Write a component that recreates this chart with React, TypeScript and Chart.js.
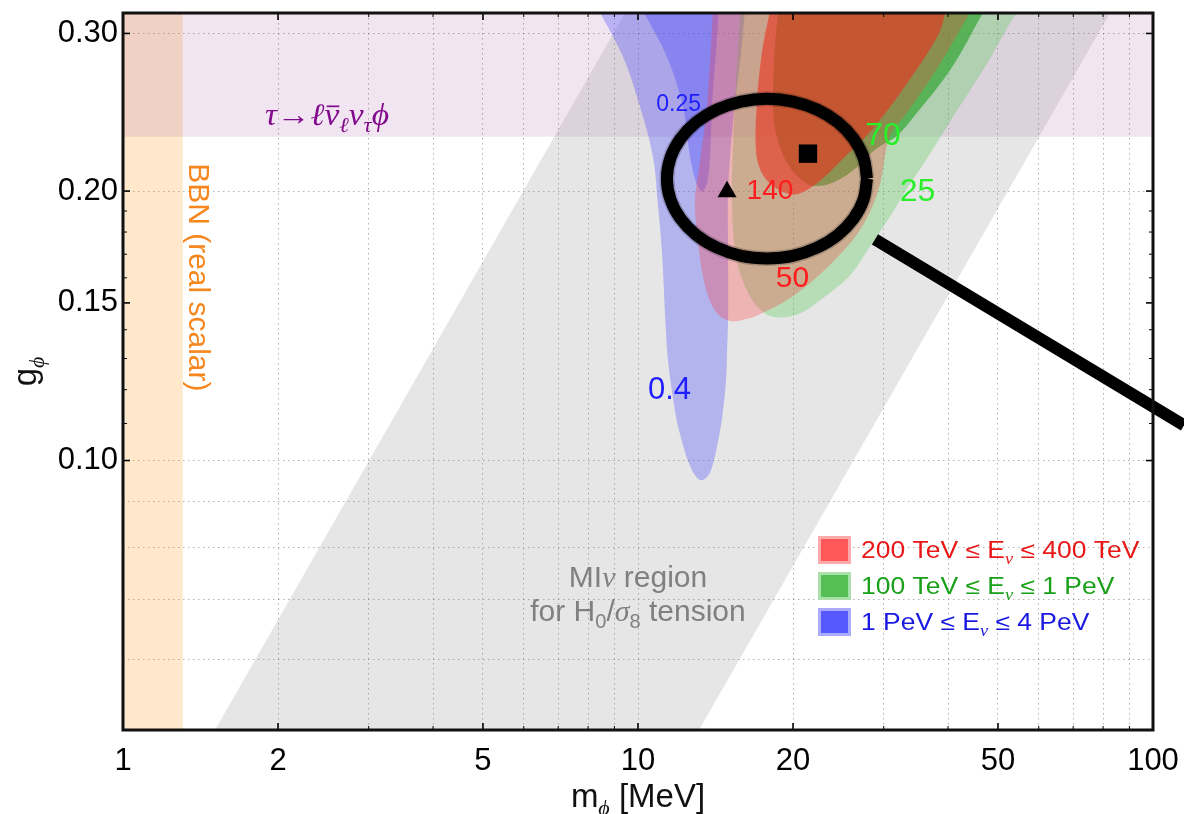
import React, { useEffect, useRef } from 'react';
import { Chart, registerables } from 'chart.js';

Chart.register(...registerables);

// ---------- axes ----------
const X_MAJOR = [1, 2, 5, 10, 20, 50, 100];
const X_MINOR = [3, 4, 6, 7, 8, 9, 30, 40, 60, 70, 80, 90];
const X_GRID = [2, 3, 4, 5, 6, 7, 8, 9, 10, 20, 30, 40, 50, 60, 70, 80, 90];
const Y_MAJOR = [0.1, 0.15, 0.2, 0.3];
const Y_LABELS = ['0.10', '0.15', '0.20', '0.30'];
const Y_MINOR = [0.11, 0.12, 0.13, 0.14, 0.16, 0.17, 0.18, 0.19];
const Y_GRID = [0.06, 0.07, 0.08, 0.09, 0.1, 0.2, 0.3];

// ---------- regions: [m_phi (MeV), g_phi] ----------
const BBN_BAND = [[0.9, 0.04], [1.306, 0.04], [1.306, 0.4], [0.9, 0.4]];
const TAU_BAND = [[0.9, 0.23], [120, 0.23], [120, 0.4], [0.9, 0.4]];
const MINU_BAND = [[1.509, 0.05], [13.135, 0.05], [82.51, 0.3162], [9.435, 0.3162]];

const BLUE_04 = [
  [8.4, 0.318], [9.351, 0.2825], [10.09, 0.2484], [10.69, 0.2185], [10.94, 0.1922], [11.13, 0.1712],
  [11.33, 0.1394], [11.44, 0.1291], [11.8, 0.1136], [12.07, 0.107], [12.62, 0.0986], [13.19, 0.0951],
  [13.67, 0.0961], [13.98, 0.0991], [14.3, 0.1051], [14.56, 0.1115], [14.82, 0.1227], [14.89, 0.1325],
  [14.96, 0.1442], [14.96, 0.1712], [14.96, 0.1997], [15.29, 0.2391], [15.78, 0.2789], [16.14, 0.318],
];
const BLUE_025 = [
  [10.226, 0.318], [11.38, 0.2825], [12.23, 0.2484], [12.62, 0.2185], [12.96, 0.2049], [13.31, 0.1997],
  [13.61, 0.2039], [13.8, 0.2185], [13.92, 0.2484], [14.17, 0.2861], [14.36, 0.318],
];
const GREEN_25 = [
  [15.78, 0.318], [15.43, 0.2517], [15.22, 0.1947], [15.57, 0.1669], [16.5, 0.1525], [17.64, 0.146],
  [18.87, 0.1445], [20.63, 0.146], [22.86, 0.1518], [25.9, 0.1614], [28.21, 0.1734], [30.86, 0.1873],
  [33.0, 0.1997], [36.09, 0.2158], [40.35, 0.2391], [47.19, 0.2753], [51.59, 0.3012], [54.69, 0.318],
];
const GREEN_70 = [
  [18.7, 0.318], [18.37, 0.2789], [18.37, 0.2391], [19.12, 0.2196], [20.17, 0.2092], [21.77, 0.2028],
  [24.12, 0.2049], [26.74, 0.213], [28.85, 0.2225], [31.84, 0.2306], [34.81, 0.2446], [40.53, 0.2739],
  [46.98, 0.318],
];
const RED_50 = [
  [13.98, 0.318], [13.61, 0.2484], [13.19, 0.2158], [12.9, 0.1947], [13.08, 0.1757], [13.37, 0.1606],
  [13.8, 0.1506], [14.43, 0.1449], [15.29, 0.143], [16.14, 0.1438], [17.02, 0.1452], [19.73, 0.1518],
  [22.56, 0.1614], [24.67, 0.1699], [26.62, 0.1789], [28.21, 0.1897], [29.51, 0.2034], [30.86, 0.2306],
  [33.3, 0.2446], [38.07, 0.2739], [44.32, 0.318],
];
const RED_140 = [
  [18.04, 0.318], [17.41, 0.2861], [17.02, 0.2517], [16.95, 0.2213], [17.41, 0.2092], [18.45, 0.2018],
  [20.0, 0.1982], [21.38, 0.2008], [23.07, 0.2076], [25.0, 0.2174], [28.59, 0.2348], [34.2, 0.2697],
  [38.4, 0.3], [39.6, 0.318],
];

// ---------- other marks ----------
const RING = [
  [27.84, 0.2065], [27.42, 0.2178], [26.22, 0.2288], [24.42, 0.2388], [22.26, 0.2467], [19.99, 0.2518],
  [17.8, 0.2536], [15.86, 0.2518], [14.24, 0.2467], [12.98, 0.2388], [12.09, 0.2288], [11.56, 0.2178],
  [11.38, 0.2065], [11.56, 0.1958], [12.09, 0.1864], [12.98, 0.1786], [14.24, 0.1729], [15.86, 0.1693],
  [17.8, 0.1682], [19.99, 0.1693], [22.26, 0.1729], [24.42, 0.1786], [26.22, 0.1864], [27.42, 0.1958],
  [27.84, 0.2065],
];
const POINTER = [[28.85, 0.1766], [114.9, 0.1095]];
const TRIANGLE_PT = [[14.89, 0.1997]];
const SQUARE_PT = [[21.38, 0.2202]];

// ---------- text anchors (data coords) ----------
const REGION_LABELS = [
  { text: '0.25', m: 11.99, g: 0.2513, size: 23, color: '#2020ff' },
  { text: '0.4', m: 11.51, g: 0.1206, size: 31, color: '#2020ff' },
  { text: '140', m: 18.04, g: 0.201, size: 28, color: '#ff1c1c' },
  { text: '50', m: 19.95, g: 0.1606, size: 30, color: '#ff1c1c' },
  { text: '70', m: 29.9, g: 0.2318, size: 32, color: '#2aee2a' },
  { text: '25', m: 34.89, g: 0.201, size: 32, color: '#2aee2a' },
];
const TAU_ANCHOR = [1.887, 0.244];
const BBN_ANCHOR = [1.411, 0.1602];
const MINU_ANCHORS = [[10.0, 0.0743], [10.0, 0.0681]];

const SANS = '"Liberation Sans", Arial, Helvetica, sans-serif';
const SERIF = '"Liberation Serif", "DejaVu Serif", "Times New Roman", serif';

type Seg = { t: string; sub?: boolean; it?: boolean; serif?: boolean; bar?: boolean };

const LEGEND_ITEMS: { segs: Seg[]; color: string; fill: string; edge: string }[] = [
  {
    segs: [{ t: '200 TeV ≤ E' }, { t: 'ν', sub: true, it: true, serif: true }, { t: ' ≤ 400 TeV' }],
    color: '#e81818', fill: 'rgb(255,88,88)', edge: 'rgb(255,170,170)',
  },
  {
    segs: [{ t: '100 TeV ≤ E' }, { t: 'ν', sub: true, it: true, serif: true }, { t: ' ≤ 1 PeV' }],
    color: '#18a018', fill: 'rgb(85,190,85)', edge: 'rgb(170,225,170)',
  },
  {
    segs: [{ t: '1 PeV ≤ E' }, { t: 'ν', sub: true, it: true, serif: true }, { t: ' ≤ 4 PeV' }],
    color: '#1818e0', fill: 'rgb(88,88,255)', edge: 'rgb(170,170,255)',
  },
];

function drawRich(
  ctx: CanvasRenderingContext2D, segs: Seg[], x: number, y: number, size: number, color: string,
  opts: { align?: 'left' | 'center'; sx?: number; rot?: number } = {}
) {
  const sx = opts.sx ?? 1;
  const rot = opts.rot ?? 0;
  const align = opts.align ?? 'center';
  ctx.save();
  ctx.translate(x, y);
  if (rot) ctx.rotate(rot);
  ctx.scale(sx, 1);
  ctx.fillStyle = color;
  ctx.strokeStyle = color;
  ctx.textAlign = 'left';
  ctx.textBaseline = 'alphabetic';
  const font = (s: Seg) =>
    `${s.it ? 'italic ' : ''}${Math.round((s.sub ? 0.68 : 1) * size)}px ${s.serif ? SERIF : SANS}`;
  const widths = segs.map((s) => {
    ctx.font = font(s);
    return ctx.measureText(s.t).width;
  });
  const total = widths.reduce((a, b) => a + b, 0);
  let cx = align === 'center' ? -total / 2 : 0;
  const base = 0.36 * size;
  segs.forEach((s, i) => {
    ctx.font = font(s);
    const dy = s.sub ? 0.24 * size : 0;
    ctx.fillText(s.t, cx, base + dy);
    if (s.bar) {
      ctx.lineWidth = Math.max(1.2, size * 0.055);
      ctx.beginPath();
      ctx.moveTo(cx + widths[i] * 0.15, base - size * 0.6);
      ctx.lineTo(cx + widths[i] * 1.0, base - size * 0.6);
      ctx.stroke();
    }
    cx += widths[i];
  });
  ctx.restore();
}

const overlayPlugin = {
  id: 'overlay',
  afterDatasetsDraw(chart: any) {
    const ctx: CanvasRenderingContext2D = chart.ctx;
    const xs = chart.scales.x;
    const ys = chart.scales.y;
    const ca = chart.chartArea;
    const px = (m: number) => xs.getPixelForValue(m);
    const py = (g: number) => ys.getPixelForValue(g);

    ctx.save();
    ctx.beginPath();
    ctx.rect(ca.left, ca.top, ca.right - ca.left, ca.bottom - ca.top);
    ctx.clip();

    REGION_LABELS.forEach((l) => drawRich(ctx, [{ t: l.text }], px(l.m), py(l.g), l.size, l.color));

    drawRich(
      ctx,
      [
        { t: 'τ', it: true, serif: true },
        { t: '→', serif: true },
        { t: 'ℓ', it: true, serif: true },
        { t: 'ν', it: true, serif: true, bar: true },
        { t: 'ℓ', it: true, serif: true, sub: true },
        { t: 'ν', it: true, serif: true },
        { t: 'τ', it: true, serif: true, sub: true },
        { t: 'ϕ', it: true, serif: true },
      ],
      px(TAU_ANCHOR[0]), py(TAU_ANCHOR[1]), 31, 'rgb(130,10,140)', { align: 'left', sx: 1.08 }
    );

    drawRich(ctx, [{ t: 'BBN (real scalar)' }], px(BBN_ANCHOR[0]), py(BBN_ANCHOR[1]), 30,
      'rgb(245,135,30)', { rot: Math.PI / 2 });

    const gray = 'rgb(128,128,128)';
    drawRich(ctx, [{ t: 'MI' }, { t: 'ν', it: true, serif: true }, { t: ' region' }],
      px(MINU_ANCHORS[0][0]), py(MINU_ANCHORS[0][1]), 30, gray);
    drawRich(
      ctx,
      [
        { t: 'for H' }, { t: '0', sub: true }, { t: '/' },
        { t: 'σ', it: true, serif: true }, { t: '8', sub: true }, { t: ' tension' },
      ],
      px(MINU_ANCHORS[1][0]), py(MINU_ANCHORS[1][1]), 30, gray
    );
    ctx.restore();

    // legend
    const lx = ca.right - 335;
    const rows = [ca.bottom - 180, ca.bottom - 144, ca.bottom - 108];
    LEGEND_ITEMS.forEach((it, i) => {
      const cy = rows[i];
      ctx.fillStyle = it.edge;
      ctx.fillRect(lx, cy - 14, 33, 28);
      ctx.fillStyle = it.fill;
      ctx.fillRect(lx + 3, cy - 11, 27, 22);
      drawRich(ctx, it.segs, lx + 43, cy, 23, it.color, { align: 'left', sx: 1.15 });
    });
  },
  afterDraw(chart: any) {
    const ctx: CanvasRenderingContext2D = chart.ctx;
    const xs = chart.scales.x;
    const ys = chart.scales.y;
    const ca = chart.chartArea;
    ctx.save();
    ctx.strokeStyle = '#000';
    const tick = (x1: number, y1: number, x2: number, y2: number, w: number) => {
      ctx.lineWidth = w;
      ctx.beginPath();
      ctx.moveTo(x1, y1);
      ctx.lineTo(x2, y2);
      ctx.stroke();
    };
    X_MAJOR.forEach((v) => {
      const x = xs.getPixelForValue(v);
      tick(x, ca.bottom, x, ca.bottom - 7, 1.6);
      tick(x, ca.top, x, ca.top + 7, 1.6);
    });
    X_MINOR.forEach((v) => {
      const x = xs.getPixelForValue(v);
      tick(x, ca.bottom, x, ca.bottom - 4, 1);
      tick(x, ca.top, x, ca.top + 4, 1);
    });
    Y_MAJOR.forEach((v) => {
      const y = ys.getPixelForValue(v);
      tick(ca.left, y, ca.left + 7, y, 1.6);
      tick(ca.right, y, ca.right - 7, y, 1.6);
    });
    Y_MINOR.forEach((v) => {
      const y = ys.getPixelForValue(v);
      tick(ca.left, y, ca.left + 4, y, 1);
      tick(ca.right, y, ca.right - 4, y, 1);
    });
    ctx.lineWidth = 3;
    ctx.strokeStyle = '#111';
    ctx.strokeRect(ca.left, ca.top, ca.right - ca.left, ca.bottom - ca.top);
    ctx.restore();

    drawRich(ctx, [{ t: 'm' }, { t: 'ϕ', sub: true, it: true, serif: true }, { t: ' [MeV]' }],
      (ca.left + ca.right) / 2, 795, 33, '#111');
    drawRich(ctx, [{ t: 'g' }, { t: 'ϕ', sub: true, it: true, serif: true }],
      24, (ca.top + ca.bottom) / 2, 33, '#111', { rot: -Math.PI / 2 });
  },
};

const pts = (arr: number[][]) => arr.map(([x, y]) => ({ x, y }));

const region = (label: string, arr: number[][], color: string, order: number, tension = 0.35) => ({
  type: 'line',
  label,
  data: pts(arr),
  backgroundColor: color,
  borderColor: 'rgba(0,0,0,0)',
  borderWidth: 0,
  pointRadius: 0,
  pointHoverRadius: 0,
  fill: 'shape',
  tension,
  order,
});

export default function App() {
  const ref = useRef<HTMLCanvasElement>(null);

  useEffect(() => {
    if (!ref.current) return;
    const chart = new Chart(ref.current, {
      type: 'line',
      data: {
        datasets: [
          region('BBN', BBN_BAND, 'rgba(255,140,0,0.2)', 30, 0),
          region('tau', TAU_BAND, 'rgba(128,0,128,0.1)', 29, 0),
          region('MInu', MINU_BAND, 'rgba(128,128,128,0.2)', 28, 0),
          region('blue 0.4', BLUE_04, 'rgba(60,60,255,0.3)', 27),
          region('blue 0.25', BLUE_025, 'rgba(60,60,255,0.33)', 26),
          region('green 25', GREEN_25, 'rgba(60,200,60,0.27)', 25),
          region('green 70', GREEN_70, 'rgba(30,160,30,0.6)', 24),
          region('red 50', RED_50, 'rgba(255,60,60,0.3)', 23),
          region('red 140', RED_140, 'rgba(235,50,30,0.6)', 22),
          {
            type: 'line', label: 'ring halo', data: pts(RING), borderColor: 'rgba(0,0,0,0.2)',
            borderWidth: 15, pointRadius: 0, fill: false, tension: 0.4, order: 6,
          },
          {
            type: 'line', label: 'ring', data: pts(RING), borderColor: '#000',
            borderWidth: 12, pointRadius: 0, fill: false, tension: 0.4, order: 5,
          },
          {
            type: 'line', label: 'pointer', data: pts(POINTER), borderColor: '#000',
            borderWidth: 12, borderCapStyle: 'butt', pointRadius: 0, fill: false, tension: 0,
            clip: false, order: 4,
          },
          {
            type: 'line', label: 'triangle', data: pts(TRIANGLE_PT), showLine: false,
            pointStyle: 'triangle', pointRadius: 11, backgroundColor: '#000', borderWidth: 0, order: 2,
          },
          {
            type: 'line', label: 'square', data: pts(SQUARE_PT), showLine: false,
            pointStyle: 'rect', pointRadius: 13, backgroundColor: '#000', borderWidth: 0, order: 1,
          },
        ] as any,
      },
      options: {
        responsive: false,
        animation: false,
        devicePixelRatio: 1,
        events: [],
        layout: { padding: { left: 0, right: 31, top: 11, bottom: 0 } },
        plugins: { legend: { display: false }, tooltip: { enabled: false } },
        scales: {
          x: {
            type: 'logarithmic',
            min: 1,
            max: 100,
            afterFit: (s: any) => {
              s.height = 84;
              s.paddingLeft = 0;
              s.paddingRight = 0;
            },
            afterBuildTicks: (s: any) => {
              s.ticks = [...X_MAJOR, ...X_MINOR].sort((a, b) => a - b).map((v) => ({ value: v }));
            },
            ticks: {
              autoSkip: false,
              maxRotation: 0,
              padding: 13,
              color: '#000',
              font: { family: SANS, size: 31 },
              callback: (v: any) => (X_MAJOR.some((t) => Math.abs(t - v) < 1e-9) ? String(v) : ''),
            },
            grid: {
              drawTicks: false,
              lineWidth: 1,
              color: (c: any) =>
                c.tick && X_GRID.some((t) => Math.abs(t - c.tick.value) < 1e-9)
                  ? 'rgba(0,0,0,0.3)' : 'rgba(0,0,0,0)',
            },
            border: { display: false, dash: [1.5, 3.5] },
          },
          y: {
            type: 'logarithmic',
            min: 0.05,
            max: 0.3162,
            afterFit: (s: any) => {
              s.width = 123;
              s.paddingTop = 0;
              s.paddingBottom = 0;
            },
            afterBuildTicks: (s: any) => {
              s.ticks = [...Y_GRID, ...Y_MINOR, 0.15].sort((a, b) => a - b).map((v) => ({ value: v }));
            },
            ticks: {
              autoSkip: false,
              padding: 5,
              color: '#000',
              font: { family: SANS, size: 31 },
              callback: (v: any) => {
                const i = Y_MAJOR.findIndex((t) => Math.abs(t - v) < 1e-9);
                return i >= 0 ? Y_LABELS[i] : '';
              },
            },
            grid: {
              drawTicks: false,
              lineWidth: 1,
              color: (c: any) =>
                c.tick && Y_GRID.some((t) => Math.abs(t - c.tick.value) < 1e-9)
                  ? 'rgba(0,0,0,0.3)' : 'rgba(0,0,0,0)',
            },
            border: { display: false, dash: [1.5, 3.5] },
          },
        },
      } as any,
      plugins: [overlayPlugin],
    });
    return () => chart.destroy();
  }, []);

  return (
    <div style={{ position: 'absolute', left: 0, top: 0, width: 1184, height: 814, background: '#fff' }}>
      <canvas ref={ref} width={1184} height={814} style={{ display: 'block', width: 1184, height: 814 }} />
    </div>
  );
}
